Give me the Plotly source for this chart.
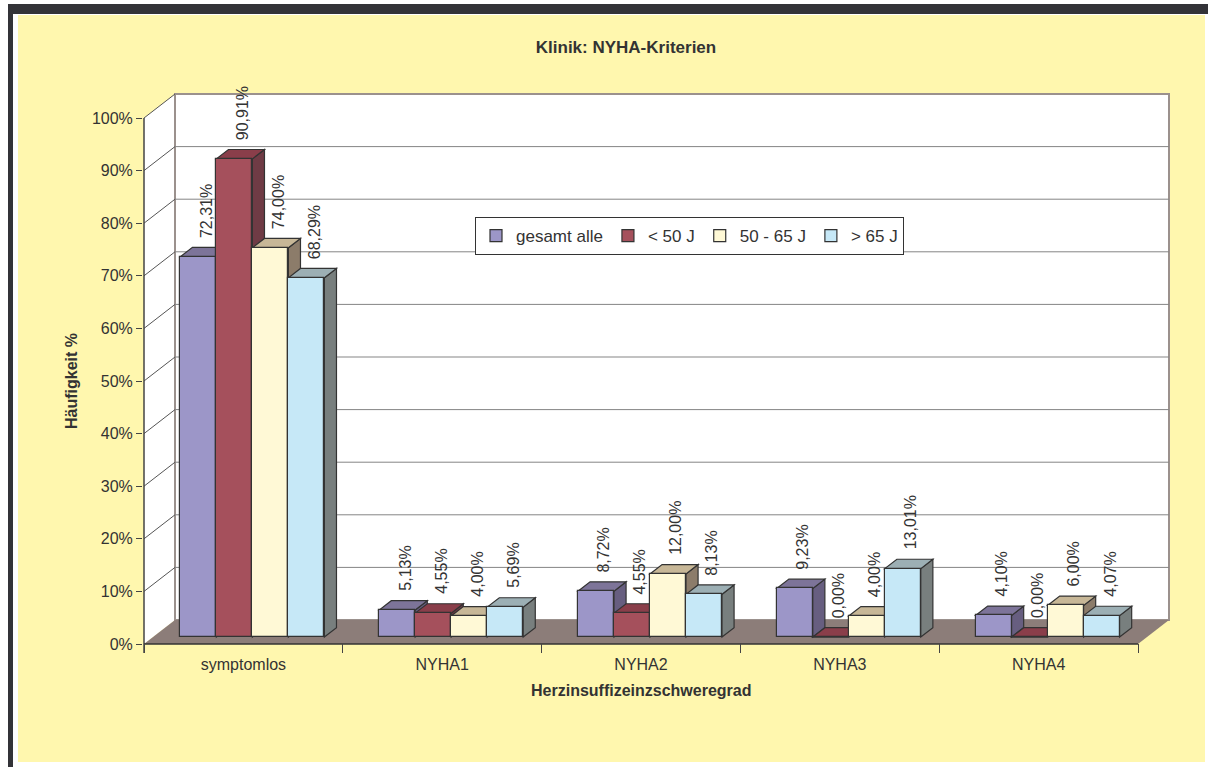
import plotly.graph_objects as go

# ---- data -------------------------------------------------------------
categories = ["symptomlos", "NYHA1", "NYHA2", "NYHA3", "NYHA4"]
series_names = ["gesamt alle", "< 50 J", "50 - 65 J", "> 65 J"]
gesamt_alle = [72.31, 5.13, 8.72, 9.23, 4.10]
unter_50 = [90.91, 4.55, 4.55, 0.00, 0.00]
von_50_bis_65 = [74.00, 4.00, 12.00, 4.00, 6.00]
ueber_65 = [68.29, 5.69, 8.13, 13.01, 4.07]
y_ticks = [0, 10, 20, 30, 40, 50, 60, 70, 80, 90, 100]
y_tick_labels = ["0%", "10%", "20%", "30%", "40%", "50%", "60%", "70%", "80%", "90%", "100%"]

series_values = [gesamt_alle, unter_50, von_50_bis_65, ueber_65]

# ---- styling ----------------------------------------------------------
FONT = "Liberation Sans, Arial, Helvetica, sans-serif"
TXT = "#333333"
BG = "#FFF7AE"
FRONT = ["#9C96C8", "#A5505C", "#FFF9D6", "#C6E8F7"]
TOP = ["#7D7499", "#8A3E4A", "#C7B797", "#9CAFB4"]
SIDE = ["#675E80", "#6F3B45", "#8C7C6A", "#787F7E"]
EDGE = "#333333"
FLOOR = "#8C7D79"
WALL_EDGE = "#9B918D"

# figure geometry (pixels)
W, H = 1208, 767
L, R, T, B = 143, 1170, 93, 653          # plot area edges
X0_PX, Y0_PX = 144, 644                  # front origin
PX_CAT = 198.8                           # pixels per category
PX_PCT = 5.26                            # pixels per percent

# pseudo-3D depth expressed in axis units
DX = 31 / PX_CAT
DY = 24 / PX_PCT
F1, F2 = 0.29, 0.68                      # bar front/back depth fractions
BAR_W = 36 / PX_CAT
GAP = (1 - 4 * BAR_W) / 2
N = len(categories)


def px_x(px):
    return (px - L) / (R - L)


def px_y(py):
    return (B - py) / (B - T)


def path(points):
    return "M " + " L ".join(f"{x},{y}" for x, y in points) + " Z"


shapes = []
# page background and frame
shapes.append(dict(type="rect", xref="paper", yref="paper", layer="below",
                   x0=px_x(18), x1=px_x(1205), y0=px_y(762), y1=px_y(15),
                   fillcolor=BG, line=dict(width=0)))
shapes.append(dict(type="rect", xref="paper", yref="paper", layer="below",
                   x0=px_x(8), x1=px_x(1208), y0=px_y(14), y1=px_y(4),
                   fillcolor="#333338", line=dict(width=0)))
shapes.append(dict(type="rect", xref="paper", yref="paper", layer="below",
                   x0=px_x(8), x1=px_x(13), y0=px_y(767), y1=px_y(4),
                   fillcolor="#333338", line=dict(width=0)))

# left wall
shapes.append(dict(type="path", layer="below", xref="x", yref="y",
                   path=path([(0, 0), (0, 100), (DX, 100 + DY), (DX, DY)]),
                   fillcolor="white", line=dict(width=0)))
# back wall
shapes.append(dict(type="rect", layer="below", xref="x", yref="y",
                   x0=DX, x1=N + DX, y0=DY, y1=100 + DY,
                   fillcolor="white", line=dict(color=WALL_EDGE, width=2)))
# floor
shapes.append(dict(type="path", layer="below", xref="x", yref="y",
                   path=path([(0, 0), (N, 0), (N + DX, DY), (DX, DY)]),
                   fillcolor=FLOOR, line=dict(width=0)))
# gridlines on back wall and connectors on the side wall
for t in y_ticks:
    if 0 < t < 100:
        shapes.append(dict(type="line", layer="below", xref="x", yref="y",
                           x0=DX, x1=N + DX, y0=t + DY, y1=t + DY,
                           line=dict(color="#858585", width=1)))
    if t > 0:
        shapes.append(dict(type="line", layer="below", xref="x", yref="y",
                           x0=0, x1=DX, y0=t, y1=t + DY,
                           line=dict(color="#555555", width=1)))
# front value axis line and front floor edge
shapes.append(dict(type="line", layer="below", xref="x", yref="y",
                   x0=0, x1=0, y0=-9 / PX_PCT, y1=100,
                   line=dict(color="#444444", width=1.5)))
shapes.append(dict(type="line", layer="below", xref="x", yref="y",
                   x0=0, x1=N, y0=0, y1=0,
                   line=dict(color=EDGE, width=1.5)))

# side and top faces of the bars (left to right)
base = F1 * DY
ddx = (F2 - F1) * DX
ddy = (F2 - F1) * DY
annotations = []
for i in range(N):
    for k, vals in enumerate(series_values):
        v = vals[i]
        xl = i + GAP + F1 * DX + k * BAR_W
        xr = xl + BAR_W
        top = base + v
        if v > 0:
            shapes.append(dict(type="path", layer="below", xref="x", yref="y",
                               path=path([(xr, base), (xr, top), (xr + ddx, top + ddy),
                                          (xr + ddx, base + ddy)]),
                               fillcolor=SIDE[k], line=dict(color=EDGE, width=1.2)))
        shapes.append(dict(type="path", layer="below", xref="x", yref="y",
                           path=path([(xl, top), (xr, top), (xr + ddx, top + ddy),
                                      (xl + ddx, top + ddy)]),
                           fillcolor=TOP[k], line=dict(color=EDGE, width=1.2)))
        label = f"{v:.2f}".replace(".", ",") + "%"
        annotations.append(dict(x=(xl + xr) / 2 + 8 / PX_CAT, y=v + 24 / PX_PCT,
                                xref="x", yref="y", text=label, showarrow=False,
                                textangle=-90, xanchor="center", yanchor="bottom",
                                font=dict(family=FONT, size=16, color=TXT)))

fig = go.Figure()
for k, (name, vals) in enumerate(zip(series_names, series_values)):
    fig.add_trace(go.Bar(
        name=name,
        x=[i + GAP + F1 * DX + (k + 0.5) * BAR_W for i in range(N)],
        y=vals,
        base=[base] * N,
        width=BAR_W,
        marker=dict(color=FRONT[k], line=dict(color=EDGE, width=1.2)),
        hoverinfo="skip",
    ))

# axis titles
annotations.append(dict(x=px_x(641), y=px_y(690), xref="paper", yref="paper",
                        text="Herzinsuffizeinzschweregrad", showarrow=False,
                        xanchor="center", yanchor="middle",
                        font=dict(family=FONT, size=16, color=TXT, weight="bold")))
annotations.append(dict(x=px_x(71), y=px_y(381), xref="paper", yref="paper",
                        text="Häufigkeit %", showarrow=False, textangle=-90,
                        xanchor="center", yanchor="middle",
                        font=dict(family=FONT, size=16, color=TXT, weight="bold")))

fig.update_layout(
    width=W, height=H, autosize=False,
    margin=dict(l=L, r=W - R, t=T, b=H - B, pad=0),
    paper_bgcolor="white",
    plot_bgcolor="rgba(0,0,0,0)",
    barmode="overlay",
    bargap=0,
    title=dict(text="Klinik: NYHA-Kriterien", x=626 / W, xref="container",
               xanchor="center", y=1 - 47 / H, yref="container", yanchor="middle",
               font=dict(family=FONT, size=17, color=TXT, weight="bold")),
    xaxis=dict(
        range=[(L - X0_PX) / PX_CAT, (R - X0_PX) / PX_CAT],
        tickmode="array",
        tickvals=[i + 0.5 for i in range(N)],
        ticktext=categories,
        ticks="",
        showgrid=False, zeroline=False, showline=False,
        tickfont=dict(family=FONT, size=16, color=TXT),
        minor=dict(tickmode="array", tickvals=list(range(N + 1)),
                   ticks="inside", ticklen=9, tickwidth=1, tickcolor="#444444",
                   showgrid=False),
        fixedrange=True,
    ),
    yaxis=dict(
        range=[(Y0_PX - B) / PX_PCT, (Y0_PX - T) / PX_PCT],
        tickmode="array",
        tickvals=y_ticks,
        ticktext=y_tick_labels,
        ticks="outside", ticklen=6, tickwidth=1, tickcolor="#444444",
        showgrid=False, zeroline=False, showline=False,
        tickfont=dict(family=FONT, size=16, color=TXT),
        fixedrange=True,
    ),
    legend=dict(
        orientation="h",
        x=px_x(475), y=px_y(217), xanchor="left", yanchor="top",
        bgcolor="white", bordercolor=EDGE, borderwidth=1,
        font=dict(family=FONT, size=17, color=TXT),
        itemwidth=30,
        traceorder="normal",
    ),
    shapes=shapes,
    annotations=annotations,
    showlegend=True,
)

fig.write_html("out.html")
